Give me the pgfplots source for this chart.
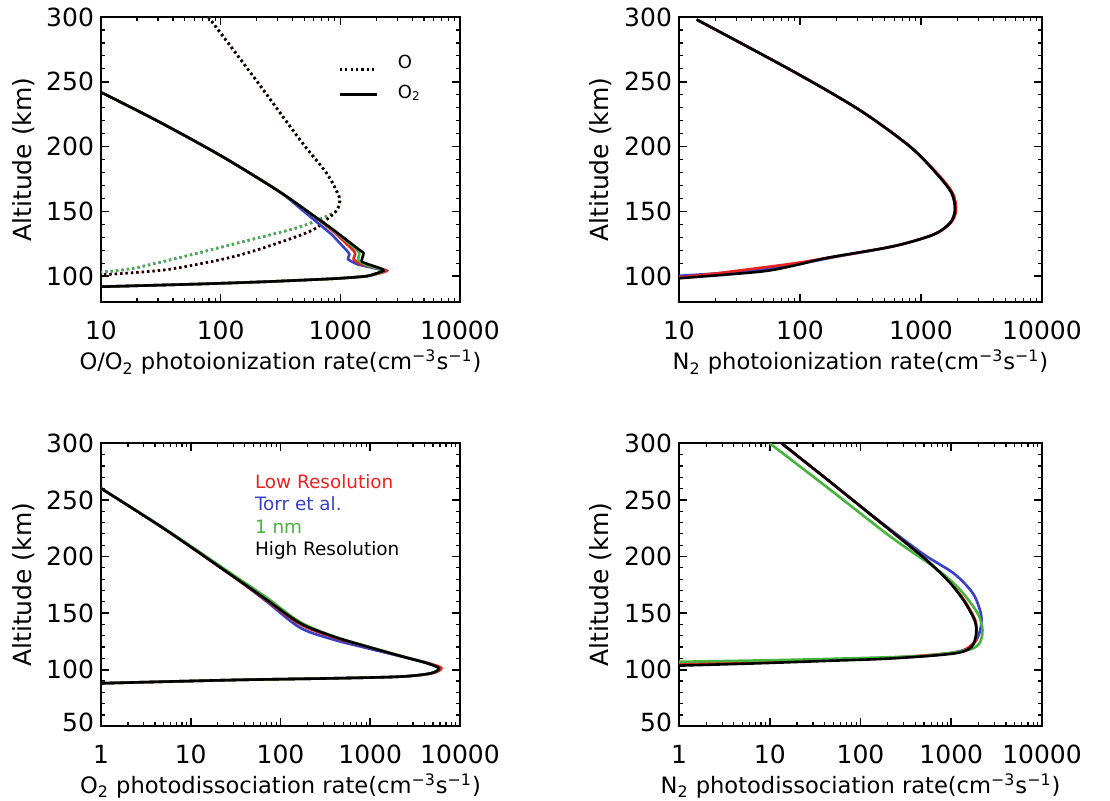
\documentclass[border=0pt]{standalone}
\usepackage{fontspec}
\setmainfont{DejaVu Sans}
\usepackage{pgfplots}
\pgfplotsset{compat=1.18}

\definecolor{idlred}{RGB}{235,35,30}
\definecolor{idlblue}{RGB}{55,65,200}
\definecolor{idlgreen}{RGB}{70,180,60}

\newcommand{\fz}{\fontsize{12.5}{14}\selectfont}
\newcommand{\fx}{\fontsize{11.3}{13}\selectfont}
\newcommand{\rateunit}{(cm\textsuperscript{−3}s\textsuperscript{−1})}

\tikzset{
  odot/.style={line width=1.3pt,dash pattern=on 1.1pt off 1.6pt},
  crv/.style={line width=1.3pt},
}

\begin{document}
\begin{tikzpicture}
\useasboundingbox (0,0) rectangle (555pt,400pt);

% O / O2 photoionization
\begin{axis}[at={(50.5pt,391.5pt)}, anchor=north west,
    scale only axis, width=179.5pt, height=142.5pt,
    xmode=log, xmin=10, xmax=10000, ymin=80, ymax=300,
    axis line style={line width=1pt},
    tick align=inside, major tick length=4pt, minor tick length=2pt,
    major tick style={black,line width=0.8pt}, minor tick style={black,line width=0.6pt},
    xtick={10,100,1000,10000}, xticklabels={10,100,1000,10000},
    minor xtick={20,30,40,50,60,70,80,90,200,300,400,500,600,700,800,900,2000,3000,4000,5000,6000,7000,8000,9000},
    ytick={100,150,200,250,300}, minor y tick num=4,
    yticklabels={100,150,200,250,\raisebox{-5.5pt}{300}},
    tick label style={font=\fz}, ylabel style={font=\fz}, xlabel style={font=\fx},
    xticklabel style={yshift=-6pt},
    ylabel={Altitude (km)},
    ylabel style={at={(axis description cs:-0.216,0.5)},anchor=center},
    xlabel={O/O\textsubscript{2} photoionization rate\rateunit},
    xlabel style={at={(axis description cs:0.5,-0.212)},anchor=center}]
  % O (dotted)
  \addplot[idlblue,odot,smooth] coordinates {(79,300) (188,254) (462,205) (774,179) (968,162) (985,157) (940,151) (824,147.5) (462,138) (177,128) (48.8,115) (18.6,106) (10,103)};
  \addplot[idlgreen,odot,smooth] coordinates {(79,300) (188,254) (462,205) (774,179) (968,162) (985,157) (940,151) (824,147.5) (462,138) (177,128) (48.8,115) (18.6,106) (10,103)};
  \addplot[idlred,odot,smooth] coordinates {(79,300) (188,254) (462,205) (774,179) (975,162) (995,157) (940,151) (824,146) (599,136) (336,127) (128,115) (35.5,105) (10,101)};
  \addplot[black,odot,smooth] coordinates {(79,300) (188,254) (462,205) (774,179) (968,162) (985,157) (940,151) (824,146) (599,136) (336,127) (128,115) (35.5,105) (10,101)};
  % O2 (solid): smooth upper part, then the kinked peak region
  \addplot[idlblue,crv,smooth] coordinates {(10,241.9) (30,219.5) (100,193) (300,166) (480,151) (850,132)};
  \addplot[idlblue,crv,smooth,tension=0.3] coordinates {(850,132) (1150,119) (1190,116.5) (1160,113) (1400,109) (2300,104.2) (1672,100) (879,98) (244,95.7) (67.3,93.9) (10,91.8)};
  \addplot[idlred,crv,smooth] coordinates {(10,241.9) (30,219.5) (100,193) (300,166) (561,148.4) (900,133.5)};
  \addplot[idlred,crv,smooth,tension=0.3] coordinates {(900,133.5) (1280,120) (1330,117) (1290,113) (1500,109) (2450,104.2) (1672,100) (879,98) (244,95.7) (67.3,93.9) (10,91.8)};
  \addplot[idlgreen,crv,smooth] coordinates {(10,241.9) (30,219.5) (100,193) (300,166) (561,148.4) (900,134.5)};
  \addplot[idlgreen,crv,smooth,tension=0.3] coordinates {(900,134.5) (1400,119.5) (1440,117) (1410,112.5) (1600,109) (2300,104.2) (1672,100) (879,98) (244,95.7) (67.3,93.9) (10,91.8)};
  \addplot[black,crv,smooth] coordinates {(10,241.9) (30,219.5) (100,193) (300,166) (561,148.4) (879,135.6)};
  \addplot[black,crv,smooth,tension=0.3] coordinates {(879,135.6) (1422,120.7) (1566,117.6) (1517,111.1) (2162,106) (2303,104.2) (1672,100) (879,98) (244,95.7) (67.3,93.9) (10,91.8)};
  % legend
  \draw[black,odot] (rel axis cs:0.665,0.816) -- (rel axis cs:0.760,0.816);
  \draw[black,crv] (rel axis cs:0.665,0.728) -- (rel axis cs:0.768,0.728);
  \node[anchor=base west,inner sep=0pt,font=\fontsize{9}{10}\selectfont] at (rel axis cs:0.826,0.818) {O};
  \node[anchor=base west,inner sep=0pt,font=\fontsize{9}{10}\selectfont] at (rel axis cs:0.826,0.715) {O\textsubscript{2}};
\end{axis}

% N2 photoionization
\begin{axis}[at={(339.5pt,391.5pt)}, anchor=north west,
    scale only axis, width=181.5pt, height=142.5pt,
    xmode=log, xmin=10, xmax=10000, ymin=80, ymax=300,
    axis line style={line width=1pt},
    tick align=inside, major tick length=4pt, minor tick length=2pt,
    major tick style={black,line width=0.8pt}, minor tick style={black,line width=0.6pt},
    xtick={10,100,1000,10000}, xticklabels={10,100,1000,10000},
    minor xtick={20,30,40,50,60,70,80,90,200,300,400,500,600,700,800,900,2000,3000,4000,5000,6000,7000,8000,9000},
    ytick={100,150,200,250,300}, minor y tick num=4,
    yticklabels={100,150,200,250,\raisebox{-5.5pt}{300}},
    tick label style={font=\fz}, ylabel style={font=\fz}, xlabel style={font=\fx},
    xticklabel style={yshift=-6pt},
    ylabel={Altitude (km)},
    ylabel style={at={(axis description cs:-0.216,0.5)},anchor=center},
    xlabel={N\textsubscript{2} photoionization rate\rateunit},
    xlabel style={at={(axis description cs:0.5,-0.212)},anchor=center}]
  \addplot[idlblue,crv,smooth] coordinates {(14,298) (88,258) (313,228) (811,200) (1349,179) (1794,164) (1910,151) (1738,141) (1264,132) (590,123) (188,114.5) (88,108.5) (40,104) (10,100.2)};
  \addplot[idlred,crv,smooth] coordinates {(14,298) (88,258) (313,228) (811,200) (1370,179) (1830,164) (1950,151) (1760,141) (1264,132) (590,123) (166,114) (100,110.5) (53,107) (20,102) (10,99)};
  \addplot[black,crv,smooth] coordinates {(14,298) (88,258) (313,228) (811,200) (1349,179) (1794,164) (1910,151) (1738,141) (1264,132) (590,123) (166,114) (88,108) (46.7,103.4) (10,98.3)};
\end{axis}

% O2 photodissociation
\begin{axis}[at={(50.5pt,178.35pt)}, anchor=north west,
    scale only axis, width=179.5pt, height=141.5pt,
    xmode=log, xmin=1, xmax=10000, ymin=50, ymax=300,
    axis line style={line width=1pt},
    tick align=inside, major tick length=4pt, minor tick length=2pt,
    major tick style={black,line width=0.8pt}, minor tick style={black,line width=0.6pt},
    xtick={1,10,100,1000,10000}, xticklabels={1,10,100,1000,10000},
    minor xtick={2,3,4,5,6,7,8,9,20,30,40,50,60,70,80,90,200,300,400,500,600,700,800,900,2000,3000,4000,5000,6000,7000,8000,9000},
    ytick={50,100,150,200,250,300}, minor y tick num=4,
    yticklabels={\raisebox{4.5pt}{50},100,150,200,250,\raisebox{-5pt}{300}},
    tick label style={font=\fz}, ylabel style={font=\fz}, xlabel style={font=\fx},
    xticklabel style={yshift=-6pt},
    ylabel={Altitude (km)},
    ylabel style={at={(axis description cs:-0.216,0.5)},anchor=center},
    xlabel={O\textsubscript{2} photodissociation rate\rateunit},
    xlabel style={at={(axis description cs:0.5,-0.212)},anchor=center}]
  \addplot[idlblue,crv,smooth] coordinates {(1,260.2) (5.4,223) (30,182.2) (70.6,160) (166,137) (392,126.5) (924,119) (2177,111.8) (4318,105.7) (5830,101.2) (4710,96.8) (2177,93.9) (392,92.4) (30,90.9) (1,88)};
  \addplot[idlred,crv,smooth] coordinates {(1,260.2) (5.4,223) (30,182) (70.6,161) (166,140) (392,128.5) (924,120.4) (2177,112.1) (4500,105.7) (6200,101.4) (4900,96.8) (2177,93.9) (392,92.4) (30,90.9) (1,88)};
  \addplot[idlgreen,crv,smooth] coordinates {(1,260.2) (5.4,223.4) (30,183.5) (70.6,163.5) (166,142) (392,129.5) (924,120.6) (2177,112.2) (4318,105.7) (5830,101.2) (4710,96.8) (2177,93.9) (392,92.4) (30,90.9) (1,88)};
  \addplot[black,crv,smooth] coordinates {(1,260.2) (5.4,223) (30,182.2) (70.6,161.6) (166,141) (392,129.2) (924,120.4) (2177,112.1) (4318,105.7) (5830,101.2) (4710,96.8) (2177,93.9) (392,92.4) (30,90.9) (1,88)};
  \node[anchor=base west,font=\fontsize{9.2}{11}\selectfont,text=idlred,inner sep=0pt] at (rel axis cs:0.428,0.840) {Low Resolution};
  \node[anchor=base west,font=\fontsize{9.2}{11}\selectfont,text=idlblue,inner sep=0pt] at (rel axis cs:0.428,0.761) {Torr et al.};
  \node[anchor=base west,font=\fontsize{9.2}{11}\selectfont,text=idlgreen,inner sep=0pt] at (rel axis cs:0.428,0.682) {1 nm};
  \node[anchor=base west,font=\fontsize{9.2}{11}\selectfont,text=black,inner sep=0pt] at (rel axis cs:0.428,0.603) {High Resolution};
\end{axis}

% N2 photodissociation
\begin{axis}[at={(339.5pt,178.35pt)}, anchor=north west,
    scale only axis, width=181.5pt, height=141.5pt,
    xmode=log, xmin=1, xmax=10000, ymin=50, ymax=300,
    axis line style={line width=1pt},
    tick align=inside, major tick length=4pt, minor tick length=2pt,
    major tick style={black,line width=0.8pt}, minor tick style={black,line width=0.6pt},
    xtick={1,10,100,1000,10000}, xticklabels={1,10,100,1000,10000},
    minor xtick={2,3,4,5,6,7,8,9,20,30,40,50,60,70,80,90,200,300,400,500,600,700,800,900,2000,3000,4000,5000,6000,7000,8000,9000},
    ytick={50,100,150,200,250,300}, minor y tick num=4,
    yticklabels={\raisebox{4.5pt}{50},100,150,200,250,\raisebox{-5pt}{300}},
    tick label style={font=\fz}, ylabel style={font=\fz}, xlabel style={font=\fx},
    xticklabel style={yshift=-6pt},
    ylabel={Altitude (km)},
    ylabel style={at={(axis description cs:-0.216,0.5)},anchor=center},
    xlabel={N\textsubscript{2} photodissociation rate\rateunit},
    xlabel style={at={(axis description cs:0.5,-0.212)},anchor=center}]
  \addplot[idlblue,crv,smooth] coordinates {(13.5,300) (43,268) (144,234.5) (480,202.7) (1069,185) (1733,167.4) (2120,149.7) (2120,137.9) (1881,126) (1363,117.2) (480,111.9) (43,109) (7.8,107) (1,105.5)};
  \addplot[idlred,crv,smooth] coordinates {(13.5,300) (43,268) (144,234) (480,200) (912,179.5) (1400,161) (1840,143.7) (1900,133) (1881,126) (1500,119) (1069,115) (215,110.5) (43,108.5) (7.8,106.5) (1,105)};
  \addplot[idlgreen,crv,smooth] coordinates {(10,300) (43,261) (215,217.4) (717,188) (1259,170.3) (1959,149.7) (2208,135) (2036,123.1) (1479,117.2) (480,112.2) (43,109.5) (7.8,108.2) (1,107)};
  \addplot[black,crv,smooth] coordinates {(13.5,300) (43,268) (144,234) (480,200) (912,179) (1363,161.4) (1806,143.7) (1881,132) (1667,120.1) (1069,114.3) (215,109.9) (43,107.8) (7.8,105.7) (1,103.6)};
\end{axis}
\end{tikzpicture}
\end{document}
